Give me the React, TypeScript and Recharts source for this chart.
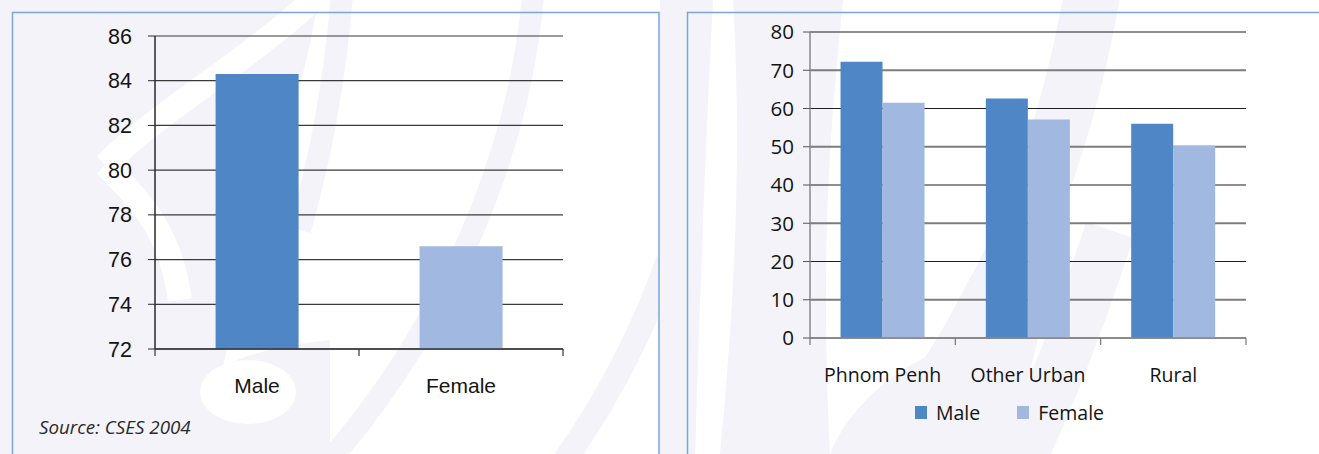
import React from 'react';
import { BarChart, Bar, XAxis, YAxis, CartesianGrid, Cell, Legend } from 'recharts';

// ---- data ----
const genderCategories = ['Male', 'Female'];
const genderValues = [84.3, 76.6];
const genderTicks = [72, 74, 76, 78, 80, 82, 84, 86];

const areaCategories = ['Phnom Penh', 'Other Urban', 'Rural'];
const maleValues = [72.2, 62.6, 56.0];
const femaleValues = [61.5, 57.1, 50.3];
const areaTicks = [0, 10, 20, 30, 40, 50, 60, 70, 80];

const seriesNames = ['Male', 'Female'];
const sourceText = 'Source: CSES 2004';

const MALE_COLOR = '#4f86c6';
const FEMALE_COLOR = '#a1b8e0';
const LAV = '#f3f3f9';
const BORDER = '#7aa5d8';

const leftData = genderCategories.map((c, i) => ({ name: c, value: genderValues[i] }));
const rightData = areaCategories.map((c, i) => ({ name: c, Male: maleValues[i], Female: femaleValues[i] }));
const genderColors = [MALE_COLOR, FEMALE_COLOR];

function BoundaryTick(props: any) {
  const { x, y, payload, index, visibleTicksCount, tickStroke, tickLen, labelDy, fontFamily, fontSize } = props;
  const off = typeof payload?.offset === 'number' ? payload.offset : 0;
  const last = index === visibleTicksCount - 1;
  return (
    <g>
      <line x1={x - off} x2={x - off} y1={y} y2={y + tickLen} stroke={tickStroke} strokeWidth={1.2} />
      {last && <line x1={x + off} x2={x + off} y1={y} y2={y + tickLen} stroke={tickStroke} strokeWidth={1.2} />}
      <text x={x} y={y + labelDy} textAnchor="middle" fill="#141414" fontFamily={fontFamily} fontSize={fontSize}>
        {payload.value}
      </text>
    </g>
  );
}

function AltGridLine(props: any) {
  const { x1, x2, y1, y2, index } = props;
  const gray = index % 2 === 1;
  return (
    <line
      x1={x1}
      x2={x2}
      y1={y1}
      y2={y2}
      stroke={gray ? '#7c7c7c' : '#1e1e1e'}
      strokeWidth={gray ? 2 : 1.1}
    />
  );
}

function LegendContent(props: any) {
  const items = [...(props.payload || [])].sort(
    (a: any, b: any) => seriesNames.indexOf(a.value) - seriesNames.indexOf(b.value)
  );
  return (
    <div style={{ display: 'flex', alignItems: 'center', fontFamily: '"Open Sans", sans-serif', fontSize: 19.5, color: '#141414', whiteSpace: 'nowrap' }}>
      {items.map((it: any, i: number) => (
        <span key={i} style={{ display: 'flex', alignItems: 'center', marginRight: i === 0 ? 37 : 0 }}>
          <span style={{ display: 'inline-block', width: 12, height: 13, background: it.color, marginRight: 9 }} />
          {it.value}
        </span>
      ))}
    </div>
  );
}

function Watermark() {
  return (
    <svg width={1319} height={454} style={{ position: 'absolute', left: 0, top: 0 }}>
      <rect x={0} y={0} width={1319} height={454} fill="#ffffff" />
      {/* left region */}
      <path d="M0,0 H318 C300,120 230,300 205,454 H0 Z" fill={LAV} />
      <path d="M150,454 C170,380 230,350 330,340 L330,454 Z" fill={LAV} />
      <path d="M318,-5 C250,60 160,110 105,165" stroke="#ffffff" strokeWidth={24} fill="none" />
      <path d="M105,165 C140,200 170,230 180,300" stroke="#ffffff" strokeWidth={24} fill="none" />
      <ellipse cx={248} cy={392} rx={48} ry={32} fill="#ffffff" />
      {/* middle stripes */}
      <path d="M342,-5 C335,80 320,160 300,230" stroke={LAV} strokeWidth={22} fill="none" />
      <path d="M533,-5 C520,150 450,320 330,460" stroke={LAV} strokeWidth={22} fill="none" />
      <path d="M668,260 C640,340 600,410 565,460" stroke={LAV} strokeWidth={24} fill="none" />
      {/* right region */}
      <path d="M660,0 H713 C705,150 700,300 695,454 H660 Z" fill={LAV} />
      <path d="M733,0 H843 C830,130 820,250 830,454 H720 C735,300 742,150 733,0 Z" fill={LAV} />
      <path d="M830,454 C860,380 950,330 1040,330 L1010,454 Z" fill={LAV} />
      <path d="M1092,-5 C1070,120 1030,230 990,300 C960,360 920,420 880,460" stroke={LAV} strokeWidth={56} fill="none" />
      <path d="M1110,230 C1080,320 1050,400 1020,460" stroke={LAV} strokeWidth={50} fill="none" />
      {/* panel borders */}
      <rect x={12.5} y={12.5} width={646.5} height={470} fill="none" stroke={BORDER} strokeWidth={1.5} />
      <rect x={687.5} y={12.5} width={700} height={470} fill="none" stroke={BORDER} strokeWidth={1.5} />
      <text x={39} y={434} fontFamily='"Open Sans", sans-serif' fontStyle="italic" fontSize={18.8} fill="#2a2a2a">
        {sourceText}
      </text>
    </svg>
  );
}

export default function App() {
  return (
    <div style={{ position: 'absolute', left: 0, top: 0, width: 1319, height: 454, overflow: 'hidden' }}>
      <Watermark />
      <div style={{ position: 'absolute', left: 0, top: 0 }}>
        <BarChart width={660} height={454} data={leftData} margin={{ top: 36, right: 97, bottom: 65, left: 95 }} barCategoryGap="29.7%">
          <CartesianGrid vertical={false} stroke="#3a3a3a" strokeWidth={1.2} />
          <XAxis
            dataKey="name"
            height={40}
            axisLine={{ stroke: '#333', strokeWidth: 1.5 }}
            tickLine={false}
            tickSize={0}
            tickMargin={0}
            interval={0}
            tick={<BoundaryTick tickStroke="#333" tickLen={7} labelDy={44} fontFamily='"Liberation Sans", Arial, sans-serif' fontSize={21} />}
          />
          <YAxis
            width={60}
            domain={[72, 86]}
            ticks={genderTicks}
            interval={0}
            allowDataOverflow
            axisLine={{ stroke: '#2a2a2a', strokeWidth: 1.5 }}
            tickLine={{ stroke: '#2a2a2a' }}
            tickSize={7}
            tickMargin={16}
            tick={{ fill: '#141414', fontSize: 21.5, fontFamily: '"Liberation Sans", Arial, sans-serif' }}
          />
          <YAxis yAxisId="r" orientation="right" width={0} domain={[0, 1]} tick={false} tickLine={false} axisLine={{ stroke: '#808080', strokeWidth: 2 }} />
          <Bar dataKey="value" isAnimationActive={false}>
            {leftData.map((d, i) => (
              <Cell key={d.name} fill={genderColors[i]} />
            ))}
          </Bar>
        </BarChart>
      </div>
      <div style={{ position: 'absolute', left: 660, top: 0 }}>
        <BarChart width={659} height={454} data={rightData} margin={{ top: 32, right: 73, bottom: 76, left: 90 }} barCategoryGap="21%" barGap={0}>
          <CartesianGrid vertical={false} horizontal={(p: any) => <AltGridLine key={p.key} {...p} />} />
          <XAxis
            dataKey="name"
            height={40}
            axisLine={{ stroke: '#8a8a8a', strokeWidth: 1.5 }}
            tickLine={false}
            tickSize={0}
            tickMargin={0}
            interval={0}
            tick={<BoundaryTick tickStroke="#777" tickLen={7} labelDy={44} fontFamily='"Open Sans", sans-serif' fontSize={19.5} />}
          />
          <YAxis
            width={60}
            domain={[0, 80]}
            ticks={areaTicks}
            interval={0}
            axisLine={{ stroke: '#8a8a8a', strokeWidth: 1.5 }}
            tickLine={{ stroke: '#555' }}
            tickSize={7}
            tickMargin={9}
            tick={{ fill: '#141414', fontSize: 20.5, fontFamily: '"Open Sans", sans-serif' }}
          />
          <YAxis yAxisId="r" orientation="right" width={0} domain={[0, 1]} tick={false} tickLine={false} axisLine={{ stroke: '#a0a0a0', strokeWidth: 2 }} />
          <Legend layout="vertical" align="center" verticalAlign="middle" wrapperStyle={{ left: 255, top: 399, width: 'auto', height: 'auto' }} content={LegendContent} />
          <Bar dataKey="Male" name={seriesNames[0]} fill={MALE_COLOR} isAnimationActive={false} />
          <Bar dataKey="Female" name={seriesNames[1]} fill={FEMALE_COLOR} isAnimationActive={false} />
        </BarChart>
      </div>
    </div>
  );
}
